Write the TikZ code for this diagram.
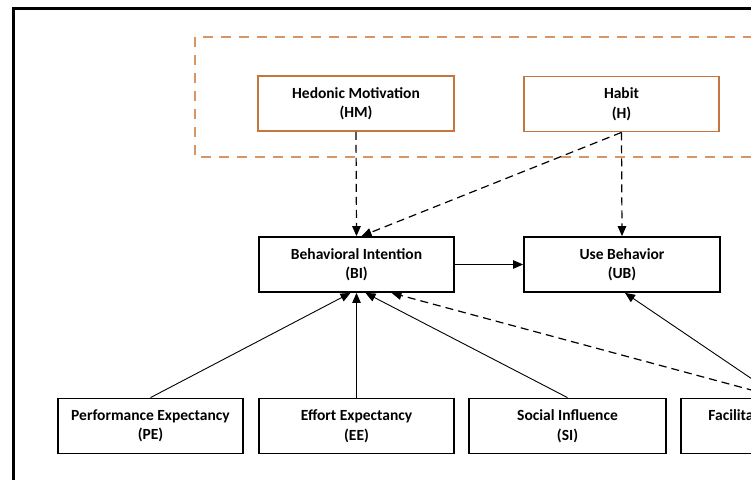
\documentclass[tikz,border=0pt]{standalone}
\usepackage{fontspec}
\setmainfont{Carlito}
\usetikzlibrary{arrows.meta,calc}
\definecolor{groupedge}{RGB}{214,150,102}
\definecolor{moderator}{RGB}{196,118,62}
\begin{document}
\begin{tikzpicture}[x=1pt,y=-1pt,
  construct/.style={draw=black,line width=1.8pt,fill=white,minimum width=#1,
    minimum height=55pt,inner sep=0pt,align=center,
    font=\bfseries\fontsize{15.5}{19.5}\selectfont},
  modbox/.style={construct=#1,draw=moderator},
  link/.style={line width=0.9pt,-{Triangle[length=10pt,width=8.5pt]}},
  dashlink/.style={link,line width=1.2pt,dash pattern=on 8pt off 5pt}
]
\useasboundingbox (0,0) rectangle (751,479);
\clip (0,0) rectangle (751,479);

% outer frame
\draw[line width=3pt] (13,8) rectangle (820,560);

% group of moderating constructs
\draw[groupedge,line width=2pt,dash pattern=on 10pt off 8pt] (195,37) rectangle (840,157);

% constructs
\node[modbox=196pt] (hm) at (356,103.5) {Hedonic Motivation\\(HM)};
\node[modbox=195pt] (h)  at (621.5,104) {Habit\\(H)};
\node[construct=195pt] (bi) at (356.5,264.5) {Behavioral Intention\\(BI)};
\node[construct=196pt] (ub) at (622,264.5) {Use Behavior\\(UB)};
\node[construct=185pt] (pe) at (150.5,426) {Performance Expectancy\\(PE)};
\node[construct=195pt] (ee) at (356.5,426) {Effort Expectancy\\(EE)};
\node[construct=197pt] (si) at (567.5,426) {Social Influence\\(SI)};
\node[construct=197pt] (fc) at (779.5,426) {Facilitating Conditions\\(FC)};

% paths
\draw[dashlink] (hm.south) -- (bi.north);
\draw[dashlink] (h.south) -- ($(bi.north)+(5,0)$);
\draw[dashlink] (h.south) -- (ub.north);
\draw[link] (bi.east) -- (ub.west);
\draw[link] (pe.north) -- ($(bi.south)+(-6,0)$);
\draw[link] (ee.north) -- (bi.south);
\draw[link] (si.north) -- ($(bi.south)+(9,0)$);
\draw[dashlink] (fc.north) -- ($(bi.south)+(35,0)$);
\draw[link] (fc.north) -- ($(ub.south)+(3,0)$);
\end{tikzpicture}
\end{document}
